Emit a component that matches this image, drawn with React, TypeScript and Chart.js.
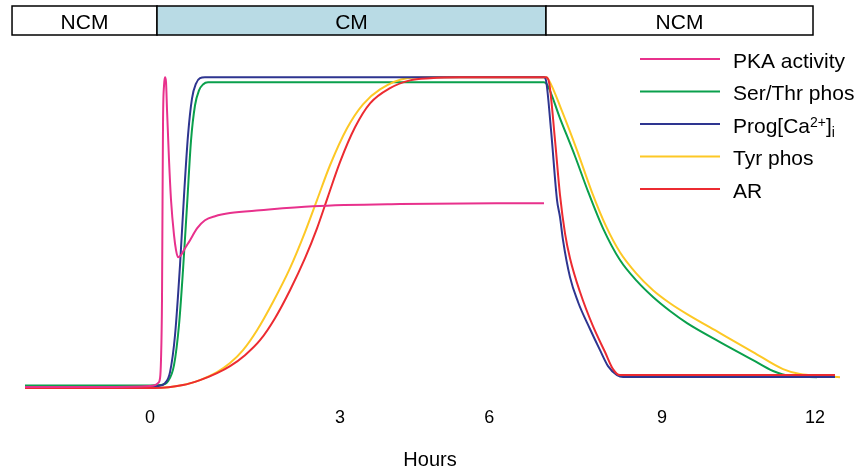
import React, { useEffect, useRef } from 'react';
import { Chart, registerables } from 'chart.js';

Chart.register(...registerables);

// ---- axis / labels ----
const TICK_HOURS = [0, 3.43, 6.12, 9.24, 12];
const TICK_LABELS = ['0', '3', '6', '9', '12'];
const X_TITLE = 'Hours';

// ---- condition bar ----
const PHASE_LABELS = ['NCM', 'CM', 'NCM'];
const PHASE_START = [-2.49, 0.126, 7.145];
const PHASE_END = [0.126, 7.145, 11.963];
const PHASE_FILLS = ['#ffffff', '#b9dbe5', '#ffffff'];

// ---- series ----
const SERIES_LABELS = ['PKA activity', 'Ser/Thr phos', 'Prog[Ca2+]i', 'Tyr phos', 'AR'];
const SERIES_COLORS = ['#e8318c', '#0aa04c', '#2e3590', '#fdc825', '#ec2b31'];

const PKA_H = [-2.256, -0.902, 0, 0.09, 0.144, 0.181, 0.198, 0.216, 0.226, 0.235, 0.253, 0.271, 0.289, 0.307, 0.343, 0.379, 0.433, 0.469, 0.505, 0.56, 0.632, 0.722, 0.848, 0.992, 1.173, 1.444, 1.985, 2.941, 4.511, 7.109];
const PKA_V = [0.32, 0.32, 0.64, 0.96, 1.61, 3.22, 9.0, 28.3, 60.5, 86.2, 97.4, 100, 98.4, 89.4, 73.3, 60.5, 49.2, 44.4, 42.1, 42.8, 45.0, 47.6, 51.4, 54.0, 55.3, 56.3, 57.2, 58.5, 59.2, 59.5];

const SER_H = [-2.256, 0, 0.181, 0.325, 0.433, 0.523, 0.595, 0.668, 0.74, 0.812, 0.884, 0.956, 1.047, 7.109, 7.164, 7.398, 7.669, 7.903, 8.174, 8.48, 8.787, 9.076, 9.383, 9.69, 10.285, 10.881, 11.242, 11.548, 12.035];
const SER_V = [0.8, 0.8, 0.96, 2.25, 7.4, 20.3, 37.9, 58.8, 79.7, 91.0, 95.8, 97.7, 98.4, 98.4, 97.7, 86.8, 74.6, 63.3, 51.4, 41.2, 34.4, 29.3, 24.8, 20.9, 14.8, 9.0, 5.5, 3.9, 3.5];

const CA_H = [-2.256, 0, 0.144, 0.271, 0.361, 0.451, 0.541, 0.614, 0.686, 0.758, 0.83, 0.902, 0.992, 7.109, 7.145, 7.236, 7.344, 7.398, 7.452, 7.578, 7.723, 7.939, 8.12, 8.264, 8.427, 8.535, 12.36];
const CA_V = [0.32, 0.32, 0.64, 1.61, 5.14, 17.0, 39.5, 62.1, 81.4, 93.2, 98.0, 99.7, 100, 100, 99.0, 83.0, 60.5, 55.0, 47.6, 35.7, 27.7, 19.0, 12.2, 7.07, 4.18, 3.54, 3.54];

const TYR_H = [-2.256, 0.09, 0.595, 0.902, 1.209, 1.444, 1.678, 1.931, 2.219, 2.526, 2.797, 3.013, 3.248, 3.555, 3.843, 4.15, 4.637, 5.052, 7.145, 7.2, 7.434, 7.705, 7.975, 8.228, 8.48, 8.769, 9.076, 9.383, 9.69, 10.285, 10.881, 11.422, 11.729, 12.09, 12.45];
const TYR_V = [0, 0, 0.96, 2.57, 5.14, 8.04, 12.2, 18.6, 27.7, 38.6, 50.2, 60.5, 71.7, 83.6, 91.3, 96.1, 99.7, 100, 100, 99.0, 89.1, 76.5, 63.0, 52.1, 43.7, 37.0, 31.5, 27.3, 23.8, 17.7, 11.6, 6.1, 4.5, 3.9, 3.5];

const AR_H = [-2.256, 0.09, 0.595, 0.902, 1.209, 1.444, 1.714, 1.985, 2.255, 2.526, 2.797, 3.013, 3.212, 3.428, 3.699, 3.97, 4.331, 4.691, 5.052, 5.594, 7.145, 7.2, 7.308, 7.398, 7.488, 7.578, 7.759, 7.993, 8.21, 8.354, 8.48, 12.36];
const AR_V = [0, 0, 0.96, 2.57, 4.82, 7.07, 10.6, 15.4, 22.5, 31.5, 41.8, 51.4, 61.7, 72.7, 83.9, 91.6, 96.5, 99.0, 99.7, 100, 100, 98.4, 79.7, 62.1, 49.8, 41.8, 30.9, 19.9, 11.6, 6.1, 4.18, 4.18];

const SERIES_H = [PKA_H, SER_H, CA_H, TYR_H, AR_H];
const SERIES_V = [PKA_V, SER_V, CA_V, TYR_V, AR_V];
const DRAW_ORDER = [0, 4, 2, 3, 1];

const FONT = '"Liberation Sans", Arial, Helvetica, sans-serif';

function drawLegendLabel(ctx: CanvasRenderingContext2D, label: string, x: number, y: number) {
  const m = label.match(/^(.*)\[(\w+)(\d\+)\](\w)$/);
  ctx.fillStyle = '#000';
  ctx.textAlign = 'left';
  ctx.textBaseline = 'alphabetic';
  if (!m) {
    ctx.font = `21px ${FONT}`;
    ctx.fillText(label, x, y);
    return;
  }
  const [, pre, el, sup, sub] = m;
  ctx.font = `21px ${FONT}`;
  const p1 = `${pre}[${el}`;
  ctx.fillText(p1, x, y);
  let cx = x + ctx.measureText(p1).width;
  ctx.font = `14px ${FONT}`;
  ctx.fillText(sup, cx, y - 6);
  cx += ctx.measureText(sup).width;
  ctx.font = `21px ${FONT}`;
  ctx.fillText(']', cx, y);
  cx += ctx.measureText(']').width;
  ctx.font = `14px ${FONT}`;
  ctx.fillText(sub, cx, y + 4);
}

const overlayPlugin = {
  id: 'overlay',
  afterDraw(chart: any) {
    const { ctx } = chart;
    const xs = chart.scales.x;
    ctx.save();
    // condition bar
    const top = 6;
    const h = 29;
    for (let i = 0; i < PHASE_LABELS.length; i++) {
      const x0 = xs.getPixelForValue(PHASE_START[i]);
      const x1 = xs.getPixelForValue(PHASE_END[i]);
      ctx.fillStyle = PHASE_FILLS[i];
      ctx.fillRect(x0, top, x1 - x0, h);
      ctx.strokeStyle = '#000';
      ctx.lineWidth = 1.5;
      ctx.strokeRect(x0, top, x1 - x0, h);
      ctx.fillStyle = '#000';
      ctx.font = `21px ${FONT}`;
      ctx.textAlign = 'center';
      ctx.textBaseline = 'middle';
      ctx.fillText(PHASE_LABELS[i], (x0 + x1) / 2, top + h / 2 + 2.5);
    }
    // legend
    const lx0 = 640;
    const lx1 = 720;
    const ly0 = 59;
    const step = 32.5;
    chart.data.datasets.forEach((ds: any, i: number) => {
      const y = ly0 + i * step;
      ctx.strokeStyle = ds.borderColor;
      ctx.lineWidth = 2;
      ctx.beginPath();
      ctx.moveTo(lx0, y);
      ctx.lineTo(lx1, y);
      ctx.stroke();
      drawLegendLabel(ctx, ds.label, 733, y + 8.5);
    });
    ctx.restore();
  },
};

export default function App() {
  const ref = useRef<HTMLCanvasElement>(null);
  useEffect(() => {
    document.body.style.margin = '0';
    const canvas = ref.current;
    if (!canvas) return;
    const datasets = SERIES_LABELS.map((label, i) => ({
      label,
      data: SERIES_H[i].map((hv, j) => ({ x: hv, y: SERIES_V[i][j] })),
      borderColor: SERIES_COLORS[i],
      backgroundColor: SERIES_COLORS[i],
      borderWidth: 2,
      pointRadius: 0,
      fill: false,
      cubicInterpolationMode: 'monotone' as const,
      order: DRAW_ORDER[i],
    }));
    const chart = new Chart(canvas, {
      type: 'line',
      data: { datasets },
      plugins: [overlayPlugin],
      options: {
        responsive: false,
        animation: false,
        layout: { padding: { top: 40, left: 0, right: 0, bottom: 0 } },
        plugins: { legend: { display: false }, tooltip: { enabled: false } },
        scales: {
          x: {
            type: 'linear',
            min: -2.707,
            max: 12.811,
            grid: { display: false, drawTicks: false },
            border: { display: false },
            afterBuildTicks: (scale: any) => {
              scale.ticks = TICK_HOURS.map((v) => ({ value: v }));
            },
            ticks: {
              padding: 10,
              color: '#000',
              font: { family: FONT, size: 18 },
              callback: (_v: any, idx: number) => TICK_LABELS[idx],
              maxRotation: 0,
              autoSkip: false,
            },
            title: {
              display: true,
              text: X_TITLE,
              color: '#000',
              font: { family: FONT, size: 20, lineHeight: 1 },
              padding: { top: 11, bottom: 0 },
            },
          },
          y: {
            type: 'linear',
            display: false,
            min: -3,
            max: 112,
          },
        },
      },
    });
    return () => chart.destroy();
  }, []);
  return (
    <div style={{ width: 860, height: 470 }}>
      <canvas ref={ref} width={860} height={470} style={{ display: 'block' }} />
    </div>
  );
}
